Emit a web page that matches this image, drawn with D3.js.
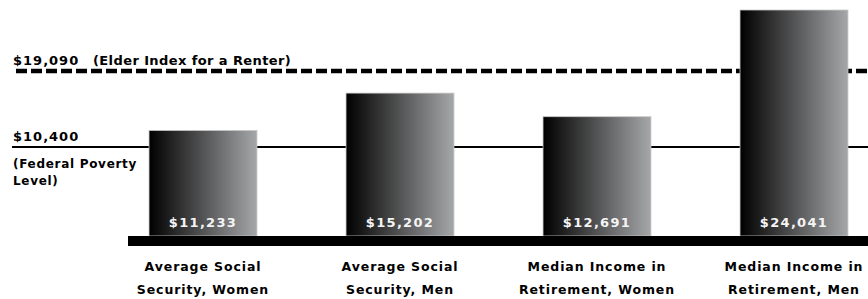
<!DOCTYPE html>
<html>
<head>
<meta charset="utf-8">
<script src="https://cdn.jsdelivr.net/npm/d3@7"></script>
<style>
  body { margin: 0; background: #fff; }
  svg text { font-family: "DejaVu Sans", sans-serif; font-weight: bold; }
</style>
</head>
<body>
<div id="chart"></div>
<script>
var svgwidth = 868;
var svgheight = 299;

// data
var categories = ["Average Social|Security, Women", "Average Social|Security, Men",
                  "Median Income in|Retirement, Women", "Median Income in|Retirement, Men"];
var values = [11233, 15202, 12691, 24041];
var refValues = [19090, 10400];
var refLabels = ["(Elder Index for a Renter)", "(Federal Poverty|Level)"];

var svg = d3.select("#chart").append("svg").attr("width", svgwidth).attr("height", svgheight);

var defs = svg.append("defs");
var grad = defs.append("linearGradient").attr("id", "barGrad")
    .attr("x1", "0%").attr("x2", "100%").attr("y1", "0%").attr("y2", "0%");
grad.append("stop").attr("offset", "0%").attr("stop-color", "#000");
grad.append("stop").attr("offset", "100%").attr("stop-color", "#a6a7a9");

var x = d3.scaleBand()
    .domain(categories)
    .range([104.5, 892.5])
    .paddingInner(0.452)
    .paddingOuter(0.226);

var y = d3.scaleLinear().domain([0, 24041]).range([236, 10]);
// reference lines sit on a slightly different scale in the original
var yRef = d3.scaleLinear().domain([0, 27200]).range([238, 0]);

var fmt = d3.format("$,");

// reference lines (behind bars)
svg.append("line")
    .attr("x1", 16).attr("x2", svgwidth)
    .attr("y1", yRef(refValues[0])).attr("y2", yRef(refValues[0]))
    .attr("stroke", "#000").attr("stroke-width", 4.5)
    .attr("stroke-dasharray", "11,4");

svg.append("line")
    .attr("x1", 12).attr("x2", svgwidth)
    .attr("y1", yRef(refValues[1])).attr("y2", yRef(refValues[1]))
    .attr("stroke", "#000").attr("stroke-width", 2);

var eld = svg.append("text")
    .attr("x", 13).attr("y", yRef(refValues[0]) - 6)
    .attr("font-size", 13);
eld.append("tspan").attr("letter-spacing", 1).text(fmt(refValues[0]));
eld.append("tspan").attr("x", 93).attr("letter-spacing", 0.4).text(refLabels[0]);

svg.append("text")
    .attr("x", 13).attr("y", yRef(refValues[1]) - 6)
    .attr("font-size", 13)
    .attr("letter-spacing", 1)
    .text(fmt(refValues[1]));

var pov = svg.append("text")
    .attr("x", 13).attr("y", yRef(refValues[1]) + 21)
    .attr("font-size", 12)
    .attr("letter-spacing", 0.7);
refLabels[1].split("|").forEach(function(s, i) {
    pov.append("tspan").attr("x", 13).attr("dy", i ? 17 : 0).text(s);
});

// bars
svg.selectAll("rect.bar")
    .data(values)
    .enter()
    .append("rect")
    .attr("class", "bar")
    .attr("x", (d, i) => x(categories[i]))
    .attr("y", d => y(d))
    .attr("width", x.bandwidth())
    .attr("height", d => y(0) - y(d))
    .attr("fill", "url(#barGrad)")
    .attr("stroke", "#c8c8c8")
    .attr("stroke-width", 0.8);

svg.selectAll("text.val")
    .data(values)
    .enter()
    .append("text")
    .attr("class", "val")
    .attr("text-anchor", "middle")
    .attr("x", (d, i) => x(categories[i]) + x.bandwidth() / 2)
    .attr("y", y(0) - 9)
    .attr("font-size", 13)
    .attr("letter-spacing", 1.3)
    .attr("fill", "#f4f4f4")
    .text(d => fmt(d));

// baseline
svg.append("rect")
    .attr("x", 128).attr("y", y(0))
    .attr("width", svgwidth - 128).attr("height", 10)
    .attr("fill", "#000");

// category labels
var xAxis = d3.axisBottom(x).tickSize(0).tickFormat("");
var axisG = svg.append("g").attr("transform", "translate(0," + (y(0) + 10) + ")").call(xAxis);
axisG.select(".domain").remove();

axisG.selectAll(".tick").each(function(d) {
    var t = d3.select(this).append("text")
        .attr("text-anchor", "middle")
        .attr("fill", "#000")
        .attr("font-size", 12.5)
        .attr("letter-spacing", 0.9)
        .style("font-family", "'DejaVu Sans', sans-serif")
        .style("font-weight", "bold");
    d.split("|").forEach(function(s, i) {
        t.append("tspan").attr("x", 0).attr("y", 25 + i * 23).text(s);
    });
});
</script>
</body>
</html>
